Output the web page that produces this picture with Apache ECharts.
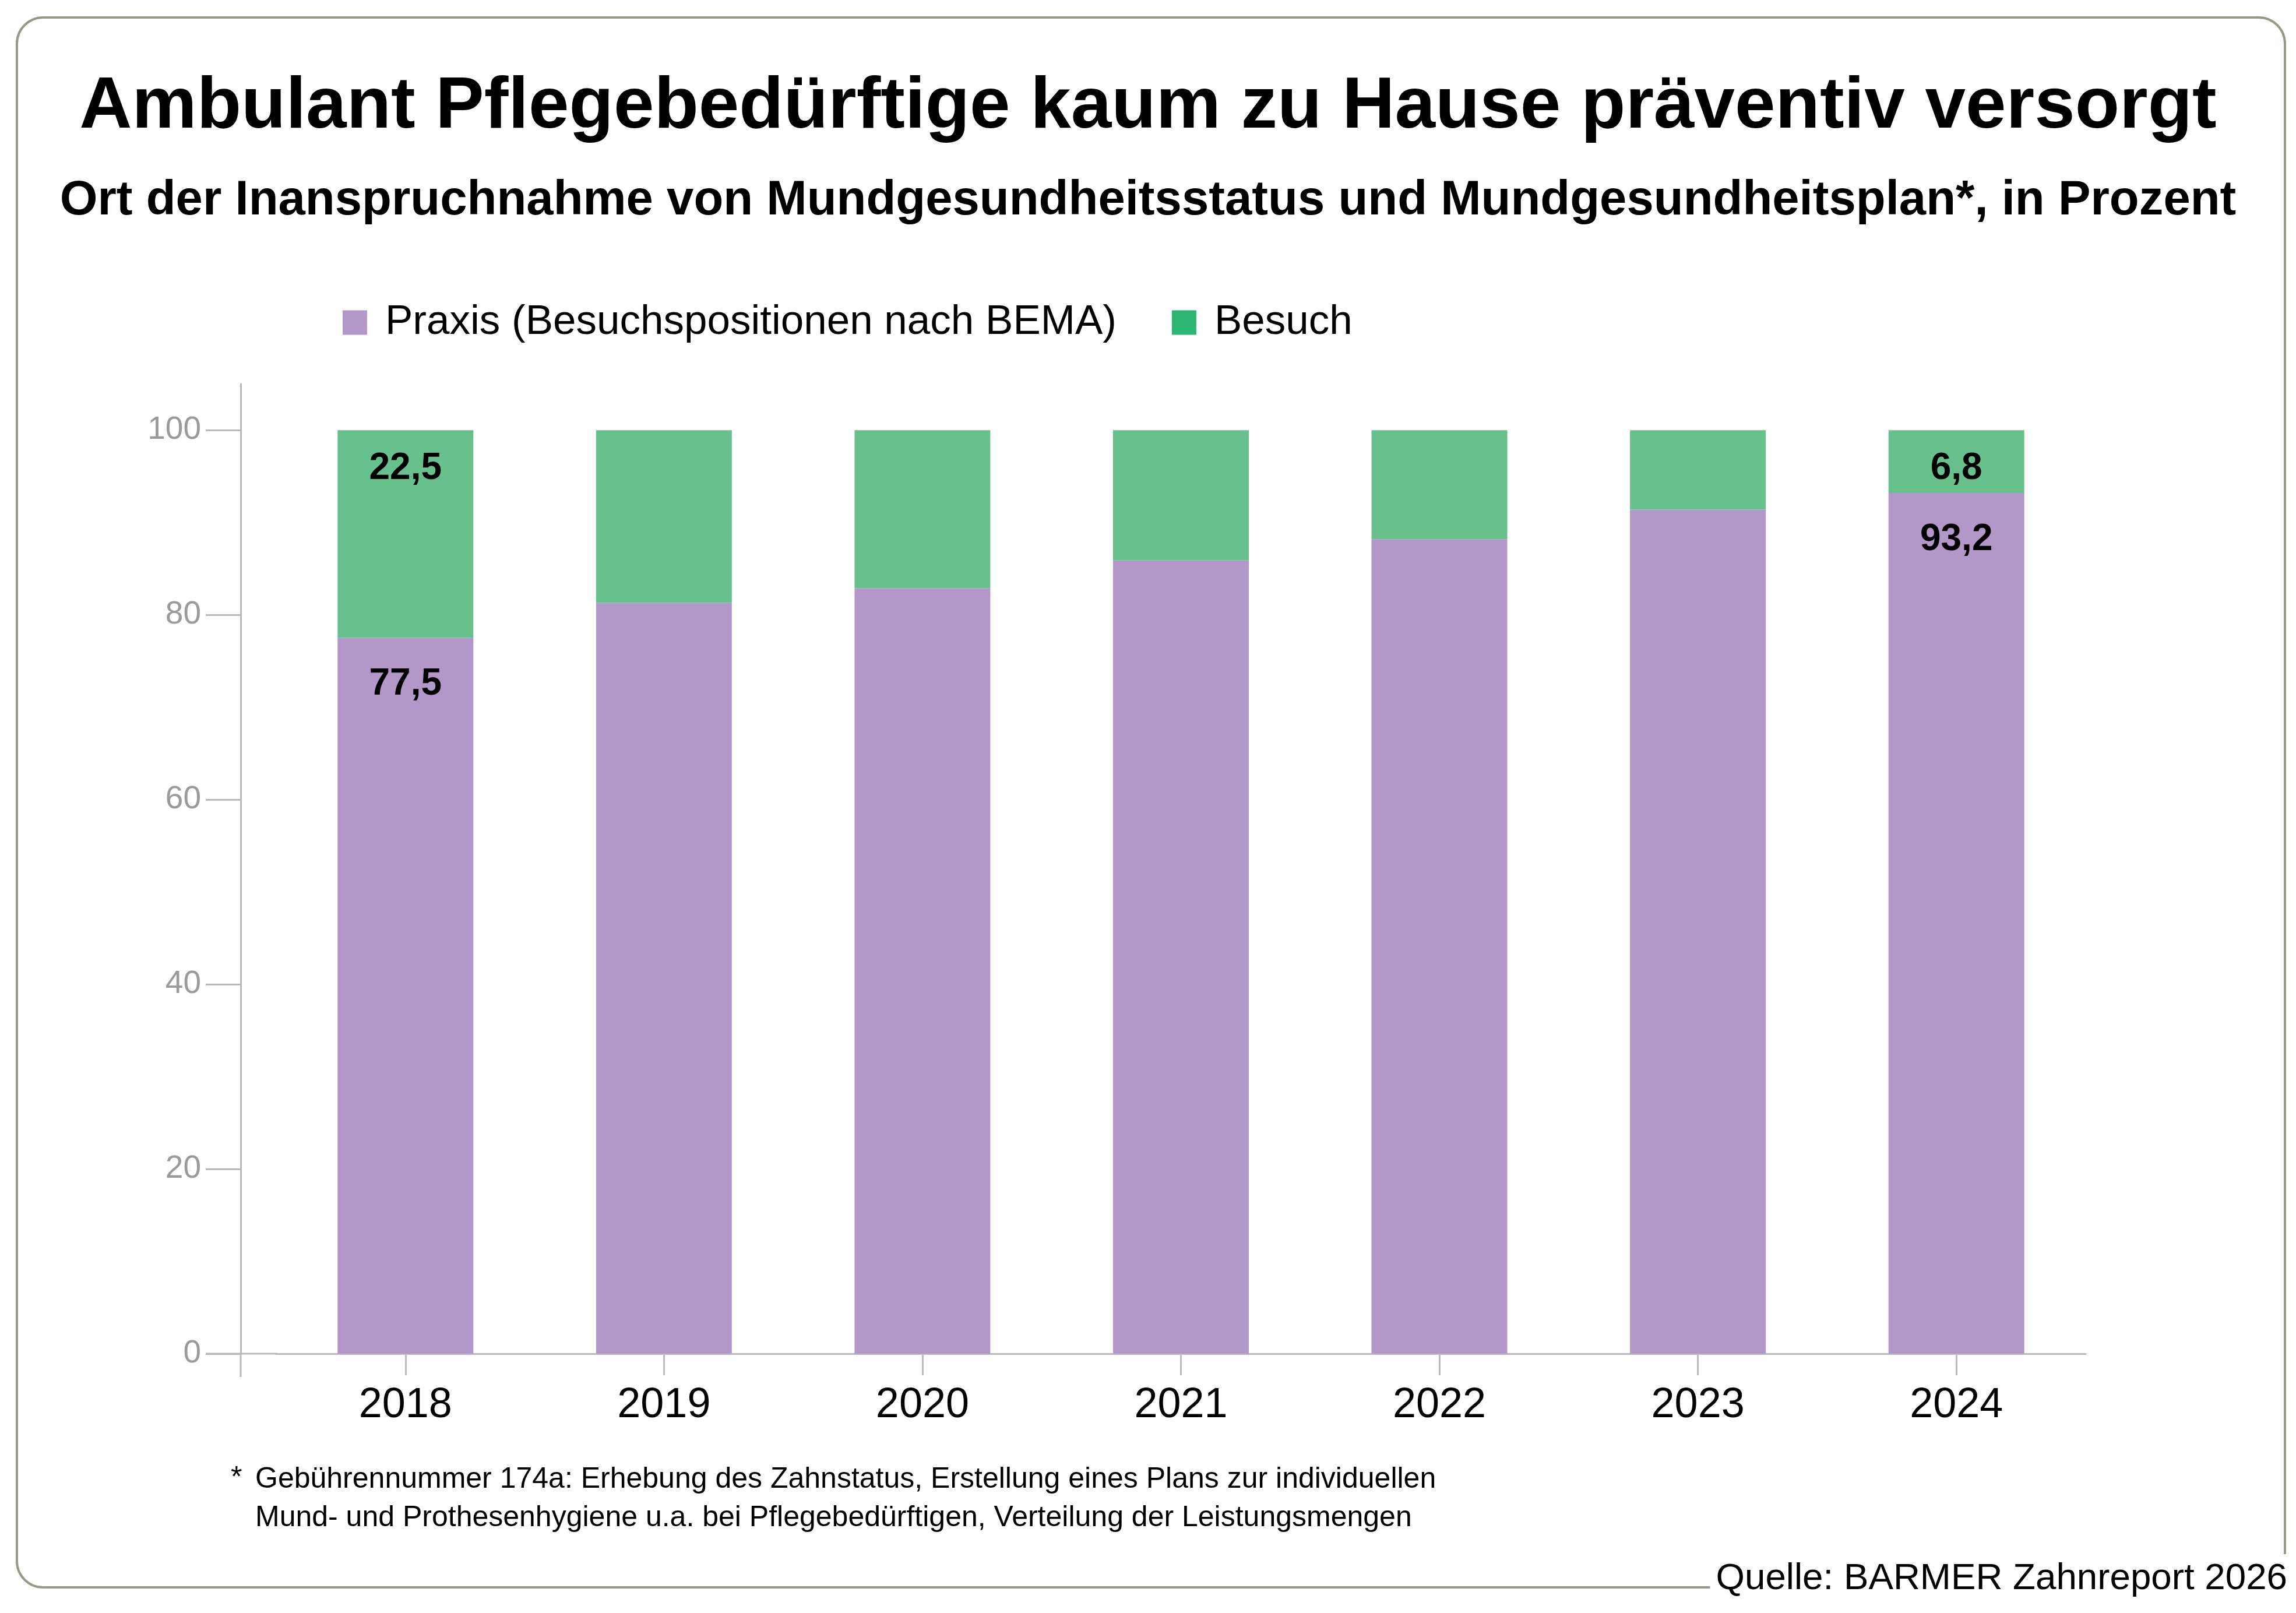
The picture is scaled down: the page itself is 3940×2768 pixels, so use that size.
<!DOCTYPE html>
<html>
<head>
<meta charset="utf-8">
<script src="https://cdn.jsdelivr.net/npm/echarts@6/dist/echarts.min.js"></script>
<style>
html,body{margin:0;padding:0;background:#fff;}
#chart{width:3940px;height:2768px;}
</style>
</head>
<body>
<div id="chart"></div>
<script>
const titleText = 'Ambulant Pflegebedürftige kaum zu Hause präventiv versorgt';
const subtitleText = 'Ort der Inanspruchnahme von Mundgesundheitsstatus und Mundgesundheitsplan*, in Prozent';
const years = ['2018', '2019', '2020', '2021', '2022', '2023', '2024'];
const praxis = [77.5, 81.3, 82.9, 85.9, 88.2, 91.4, 93.2];
const besuch = [22.5, 18.7, 17.1, 14.1, 11.8, 8.6, 6.8];
const labelledIdx = [0, 6];
const yTicks = [0, 20, 40, 60, 80, 100];
const seriesNames = ['Praxis (Besuchspositionen nach BEMA)', 'Besuch'];
const footLine1 = 'Gebührennummer 174a: Erhebung des Zahnstatus, Erstellung eines Plans zur individuellen';
const footLine2 = 'Mund- und Prothesenhygiene u.a. bei Pflegebedürftigen, Verteilung der Leistungsmengen';
const sourceText = 'Quelle: BARMER Zahnreport 2026';

const FONT = '"Liberation Sans", Arial, Helvetica, sans-serif';
const fmt = v => String(v).replace('.', ',');

function mk(values, dist) {
  return values.map((v, i) => labelledIdx.includes(i)
    ? {value: v, label: {show: true, position: 'insideTop', distance: dist, formatter: p => fmt(p.value),
        fontSize: 64, fontWeight: 'bold', color: '#000', fontFamily: FONT}}
    : v);
}

const chart = echarts.init(document.getElementById('chart'), null, {renderer: 'canvas'});
const option = {
  backgroundColor: '#ffffff',
  animation: false,
  textStyle: {fontFamily: FONT},
  title: [
    {text: titleText, left: 'center', top: 117,
     textStyle: {fontSize: 125, fontWeight: 'bold', color: '#000', fontFamily: FONT}},
    {text: subtitleText, left: 'center', top: 299,
     textStyle: {fontSize: 83.3, fontWeight: 'bold', color: '#000', fontFamily: FONT}}
  ],
  legend: {
    left: 583, top: 513,
    itemWidth: 42, itemHeight: 42, itemGap: 95,
    icon: 'rect',
    textStyle: {fontSize: 71, color: '#000', fontFamily: FONT, padding: [0, 0, 0, 26]},
    data: [
      {name: seriesNames[0], itemStyle: {color: '#b198c8'}},
      {name: seriesNames[1], itemStyle: {color: '#2db574'}}
    ]
  },
  grid: {left: 474, right: 361, top: 659, bottom: 445, containLabel: false},
  xAxis: {
    type: 'category', data: years,
    axisLine: {show: true, lineStyle: {color: '#b9b9bb', width: 3}},
    axisTick: {show: true, alignWithLabel: true, length: 37, lineStyle: {color: '#bcbcbe', width: 3}},
    axisLabel: {fontSize: 72, color: '#000', margin: 53, fontFamily: FONT},
    splitLine: {show: false}
  },
  yAxis: {
    type: 'value', min: 0, max: 105, interval: 20, offset: 61,
    axisLine: {show: true, lineStyle: {color: '#b9b9bb', width: 3}},
    axisTick: {show: true, length: 60, customValues: yTicks, lineStyle: {color: '#b9b9bb', width: 3}},
    axisLabel: {fontSize: 55, color: '#9a9a9c', margin: 68, fontFamily: FONT, customValues: yTicks},
    splitLine: {show: false}
  },
  series: [
    {name: seriesNames[0], type: 'bar', stack: 'total', barWidth: 233,
     itemStyle: {color: '#b198c8'}, data: mk(praxis, 48)},
    {name: seriesNames[1], type: 'bar', stack: 'total', barWidth: 233,
     itemStyle: {color: '#68c18d'}, data: mk(besuch, 34)}
  ]
};
chart.setOption(option);

const y0 = chart.convertToPixel({yAxisIndex: 0}, 0);
const xLeft = chart.convertToPixel({xAxisIndex: 0}, years[0]) - 222;
chart.setOption({
  graphic: [
    {type: 'rect', z: 100, silent: true,
     shape: {x: 29, y: 30, width: 3892, height: 2694, r: 45},
     style: {fill: 'none', stroke: '#9b9786', lineWidth: 4}},
    {type: 'line', z: 50, silent: true,
     shape: {x1: 353, y1: y0, x2: xLeft + 2, y2: y0},
     style: {stroke: '#b9b9bb', lineWidth: 3}},
    {type: 'line', z: 50, silent: true,
     shape: {x1: 413, y1: y0, x2: 413, y2: y0 + 40},
     style: {stroke: '#b9b9bb', lineWidth: 3}},
    {type: 'text', z: 60, left: 396, top: 2512,
     style: {text: '*', fontSize: 50, fill: '#000', fontFamily: FONT}},
    {type: 'text', z: 60, left: 438, top: 2514,
     style: {text: footLine1, fontSize: 50, fill: '#000', fontFamily: FONT}},
    {type: 'text', z: 60, left: 438, top: 2580,
     style: {text: footLine2, fontSize: 50, fill: '#000', fontFamily: FONT}},
    {type: 'text', z: 200, right: 15, top: 2667,
     style: {text: sourceText, fontSize: 63.7, fill: '#000', fontFamily: FONT,
             backgroundColor: '#ffffff', padding: [10, 0, 40, 10]}}
  ]
});
</script>
</body>
</html>
